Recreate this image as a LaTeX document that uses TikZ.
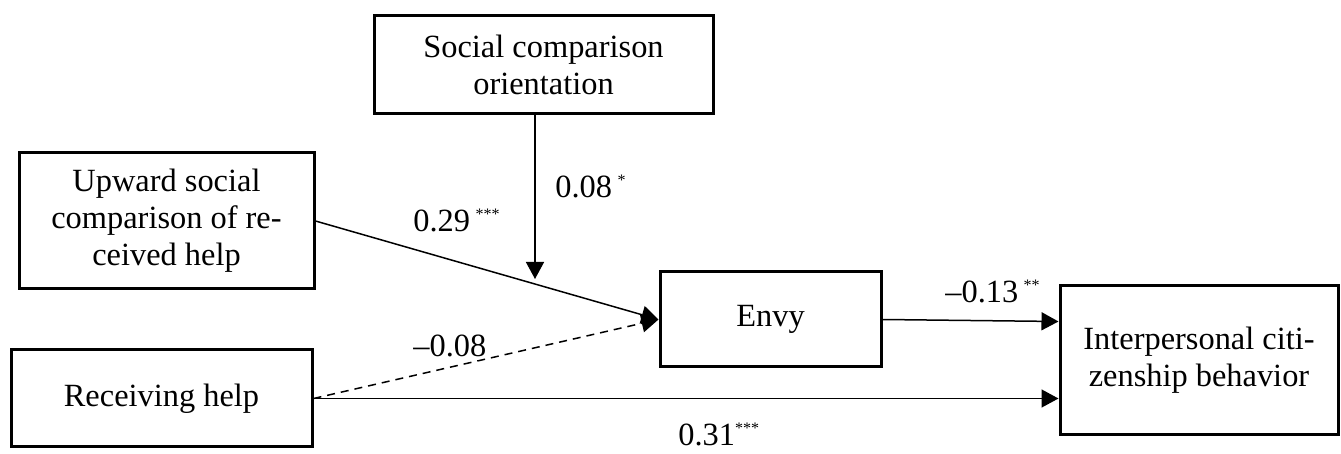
\documentclass[tikz,border=0pt]{standalone}
\usepackage{fontspec}
\setmainfont{Liberation Serif}
\usetikzlibrary{arrows.meta}
\tikzset{
  box/.style={draw, line width=1.5pt, rectangle, inner sep=0pt, align=center, font=\fontsize{16.2}{18.5}\selectfont},
  conn/.style={line width=0.75pt, -{Triangle[length=8.5pt,width=9pt]}},
  dashconn/.style={conn, dash pattern=on 4pt off 3pt},
  coef/.style={inner sep=0pt, anchor=base west, font=\fontsize{16.2}{18.5}\selectfont},
}
\newcommand{\stars}[1]{\textsuperscript{\fontsize{8}{8}\selectfont #1}}
\begin{document}
\begin{tikzpicture}[x=0.5pt,y=-0.5pt]
\useasboundingbox (0,0) rectangle (1341,454);
\node[box, minimum width=339*0.5pt, minimum height=98*0.5pt] (sco) at (543.5,65) {Social comparison\\orientation};
\node[box, minimum width=295*0.5pt, minimum height=136*0.5pt] (usc) at (166.5,221) {Upward social\\comparison of re-\\ceived help};
\node[box, minimum width=301*0.5pt, minimum height=97*0.5pt] (rh) at (161.5,398.5) {Receiving help};
\node[box, minimum width=221*0.5pt, minimum height=95*0.5pt] (envy) at (770.5,319.5) {Envy};
\node[box, minimum width=278*0.5pt, minimum height=149*0.5pt] (icb) at (1199,360.5) {Interpersonal citi-\\zenship behavior};
\coordinate (modtip) at (535,279);
\draw[conn] (usc.east) -- (envy.west);
\draw[dashconn] (rh.east) -- (envy.west);
\draw[conn] (rh.east) -- (rh.east -| icb.west);
\draw[conn] (envy.east) -- ([yshift=-1pt]envy.east -| icb.west);
\draw[conn] (sco.south -| modtip) -- (modtip);
\node[coef] (l1) at (555,198) {0.08\,\stars{*}};
\node[coef] (l2) at (413,232) {0.29\,\stars{***}};
\node[coef] (l3) at (413,357) {\textendash0.08};
\node[coef] (l4) at (945,303) {\textendash0.13\,\stars{**}};
\node[coef] (l5) at (678,446) {0.31\stars{***}};
\end{tikzpicture}
\end{document}
